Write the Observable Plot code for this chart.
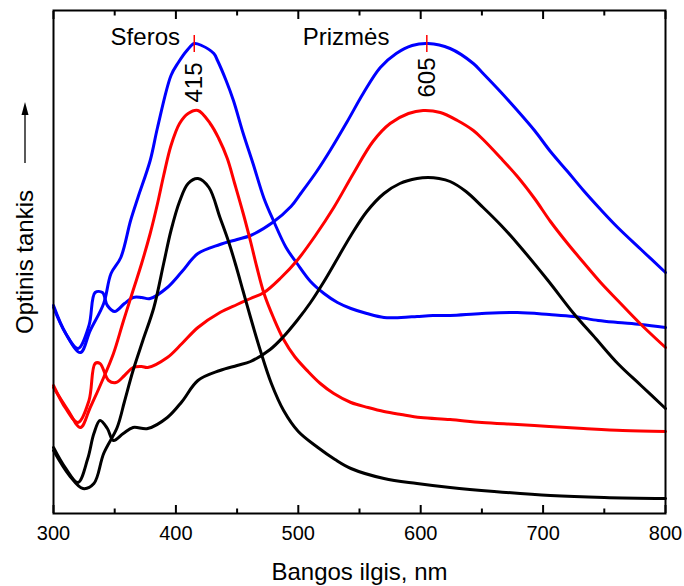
<!DOCTYPE html>
<html>
<head>
<meta charset="utf-8">
<script src="https://cdn.jsdelivr.net/npm/d3@7"></script>
<script src="https://cdn.jsdelivr.net/npm/@observablehq/plot@0.6"></script>
<style>
  html, body { margin: 0; padding: 0; background: #fff; }
  #chart { position: relative; width: 684px; height: 586px; }
</style>
</head>
<body>
<div id="chart"></div>
<script>
// x: wavelength (nm); y: optical density (arbitrary units)
const blueSphereNm  = [300,310,322,330,341,347,355,363,369,379,385,396,402,409,415,421,431,434,441,447,455,463,472,480,490,499,510,521,532,543,556,570,584,597,610,624,650,679,705,725,745,761,780,800];
const blueSphereVal = [2.08,1.80,1.61,1.83,2.10,2.40,2.56,2.93,3.16,3.53,3.86,4.38,4.51,4.63,4.70,4.68,4.60,4.53,4.33,4.13,3.80,3.50,3.15,2.92,2.66,2.50,2.32,2.20,2.11,2.05,2.00,1.96,1.96,1.97,1.98,1.98,2.00,2.01,1.99,1.97,1.93,1.91,1.89,1.86];

const bluePrismNm  = [300,310,320,329,334,340,344,350,358,365,372,379,393,405,418,436,450,461,479,494,502,515,526,540,553,567,580,593,606,624,643,651,665,679,693,706,720,733,747,761,780,800];
const bluePrismVal = [2.06,1.80,1.65,1.88,2.21,2.21,2.08,2.02,2.10,2.16,2.16,2.15,2.26,2.42,2.60,2.69,2.74,2.78,2.91,3.07,3.20,3.42,3.63,3.92,4.20,4.46,4.60,4.68,4.70,4.65,4.50,4.40,4.22,4.03,3.83,3.62,3.42,3.23,3.04,2.86,2.64,2.41];

const redSphereNm  = [300,312,322,330,341,349,357,365,372,379,385,390,396,403,410,418,428,435,442,448,455,461,466,472,480,488,497,508,518,529,543,557,570,584,600,624,650,679,705,733,765,800];
const redSphereVal = [1.26,1.03,0.86,1.06,1.36,1.60,1.92,2.23,2.50,2.80,3.10,3.38,3.68,3.90,4.00,4.03,3.90,3.75,3.55,3.30,3.00,2.72,2.47,2.20,1.95,1.74,1.57,1.42,1.30,1.20,1.11,1.06,1.02,0.99,0.96,0.94,0.91,0.89,0.87,0.85,0.83,0.82];

const redPrismNm  = [300,310,320,329,334,338,345,351,358,365,372,377,393,405,418,436,450,461,472,486,499,514,529,545,561,575,590,602,616,630,643,651,665,679,693,706,720,733,747,761,780,800];
const redPrismVal = [1.28,1.05,0.91,1.13,1.50,1.50,1.33,1.31,1.38,1.46,1.47,1.46,1.56,1.70,1.86,2.01,2.09,2.15,2.21,2.36,2.53,2.78,3.06,3.40,3.72,3.90,4.00,4.03,4.01,3.93,3.83,3.74,3.56,3.37,3.15,2.92,2.70,2.51,2.31,2.13,1.89,1.66];

const blackSphereNm  = [300,313,324,333,341,352,358,365,373,382,390,396,403,410,418,427,436,443,449,455,461,469,478,488,500,516,530,543,570,597,624,660,706,750,800];
const blackSphereVal = [0.63,0.38,0.25,0.30,0.60,0.86,1.12,1.43,1.73,2.06,2.50,2.83,3.12,3.30,3.35,3.26,2.96,2.72,2.48,2.22,1.96,1.63,1.30,1.03,0.82,0.66,0.54,0.45,0.35,0.30,0.26,0.22,0.18,0.16,0.15];

const blackPrismNm  = [300,310,320,328,333,338,344,349,357,365,377,393,405,418,436,450,461,477,488,499,510,521,532,543,556,570,583,597,606,615,624,637,651,665,679,704,725,743,761,780,800];
const blackPrismVal = [0.66,0.45,0.31,0.55,0.80,0.93,0.85,0.73,0.80,0.86,0.85,0.96,1.12,1.33,1.43,1.48,1.52,1.64,1.77,1.93,2.11,2.32,2.55,2.78,3.02,3.20,3.30,3.35,3.36,3.35,3.32,3.22,3.06,2.89,2.70,2.33,2.00,1.75,1.50,1.28,1.05];

const seriesColors = ["#0000ff", "#0000ff", "#ff0000", "#ff0000", "#000000", "#000000"];

// annotations
const groupNames   = ["Sferos", "Prizmės"];
const groupLabelNm = [375, 539];
const groupLabelY  = 4.69;
const peakNm       = [415, 605];
const peakText     = ["415", "605"];
const peakTextTop  = [4.51, 4.56];
const peakTickY1   = 4.61, peakTickY2 = 4.78;

const xLabel = "Bangos ilgis, nm";
const yLabel = "Optinis tankis";
const majorTicks = [300, 400, 500, 600, 700, 800];
const minorTicks = [350, 450, 550, 650, 750];

const allSeries = [
  [blueSphereNm, blueSphereVal], [bluePrismNm, bluePrismVal],
  [redSphereNm, redSphereVal], [redPrismNm, redPrismVal],
  [blackSphereNm, blackSphereVal], [blackPrismNm, blackPrismVal]
];
const tables = allSeries.map(([xs, ys]) => xs.map((x, i) => ({nm: x, v: ys[i]})));

const FONT = "'Liberation Sans', Arial, Helvetica, sans-serif";
const blank = () => "";

const marks = [];
tables.forEach((t, i) => {
  marks.push(Plot.line(t, {x: "nm", y: "v", stroke: seriesColors[i], strokeWidth: 3, curve: "catmull-rom"}));
});
marks.push(
  Plot.frame({stroke: "#000", strokeWidth: 2}),
  // inward ticks bottom & top
  Plot.axisX(majorTicks, {anchor: "bottom", tickSize: -8, tickFormat: blank, label: null, strokeWidth: 2}),
  Plot.axisX(minorTicks, {anchor: "bottom", tickSize: -4.5, tickFormat: blank, label: null, strokeWidth: 2}),
  Plot.axisX(majorTicks, {anchor: "top", tickSize: -8, tickFormat: blank, label: null, strokeWidth: 2}),
  Plot.axisX(minorTicks, {anchor: "top", tickSize: -4.5, tickFormat: blank, label: null, strokeWidth: 2}),
  // tick labels
  Plot.axisX(majorTicks, {anchor: "bottom", tickSize: 0, tickPadding: 12, fontSize: 20, label: null, fill: "#000"}),
  // axis titles
  Plot.axisX([], {anchor: "bottom", tickSize: 0, label: xLabel, labelArrow: "none", labelAnchor: "center", labelOffset: 66, fontSize: 24, fill: "#000"}),
  Plot.axisY([], {anchor: "left", tickSize: 0, label: yLabel, labelArrow: "none", labelAnchor: "center", labelOffset: 38, fontSize: 24, fill: "#000"}),
  // peak markers
  Plot.ruleX(peakNm, {x: d => d, y1: peakTickY1, y2: peakTickY2, stroke: "#ff0000", strokeWidth: 1.5}),
  Plot.text(peakNm, {x: d => d, y: (d, i) => peakTextTop[i], text: (d, i) => peakText[i], rotate: -90, textAnchor: "end", fontSize: 24, fill: "#000"}),
  Plot.text(groupNames, {x: (d, i) => groupLabelNm[i], y: groupLabelY, text: d => d, lineAnchor: "bottom", fontSize: 24, fill: "#000"})
);

const plot = Plot.plot({
  width: 684,
  height: 586,
  marginLeft: 53,
  marginRight: 19,
  marginTop: 10,
  marginBottom: 73,
  style: {fontFamily: FONT, background: "#fff", color: "#000", overflow: "visible"},
  x: {domain: [300, 800], label: xLabel, labelArrow: "none"},
  y: {domain: [0, 5.03], label: yLabel, labelArrow: "none", axis: null},
  marks
});
document.getElementById("chart").appendChild(plot);

// arrow beside the y-axis title
const svg = d3.select(plot);
svg.append("line").attr("x1", 25).attr("x2", 25).attr("y1", 163).attr("y2", 110)
  .attr("stroke", "#000").attr("stroke-width", 1.3);
svg.append("path").attr("d", "M25,102 L21.5,115 L28.5,115 Z").attr("fill", "#000");
</script>
</body>
</html>
